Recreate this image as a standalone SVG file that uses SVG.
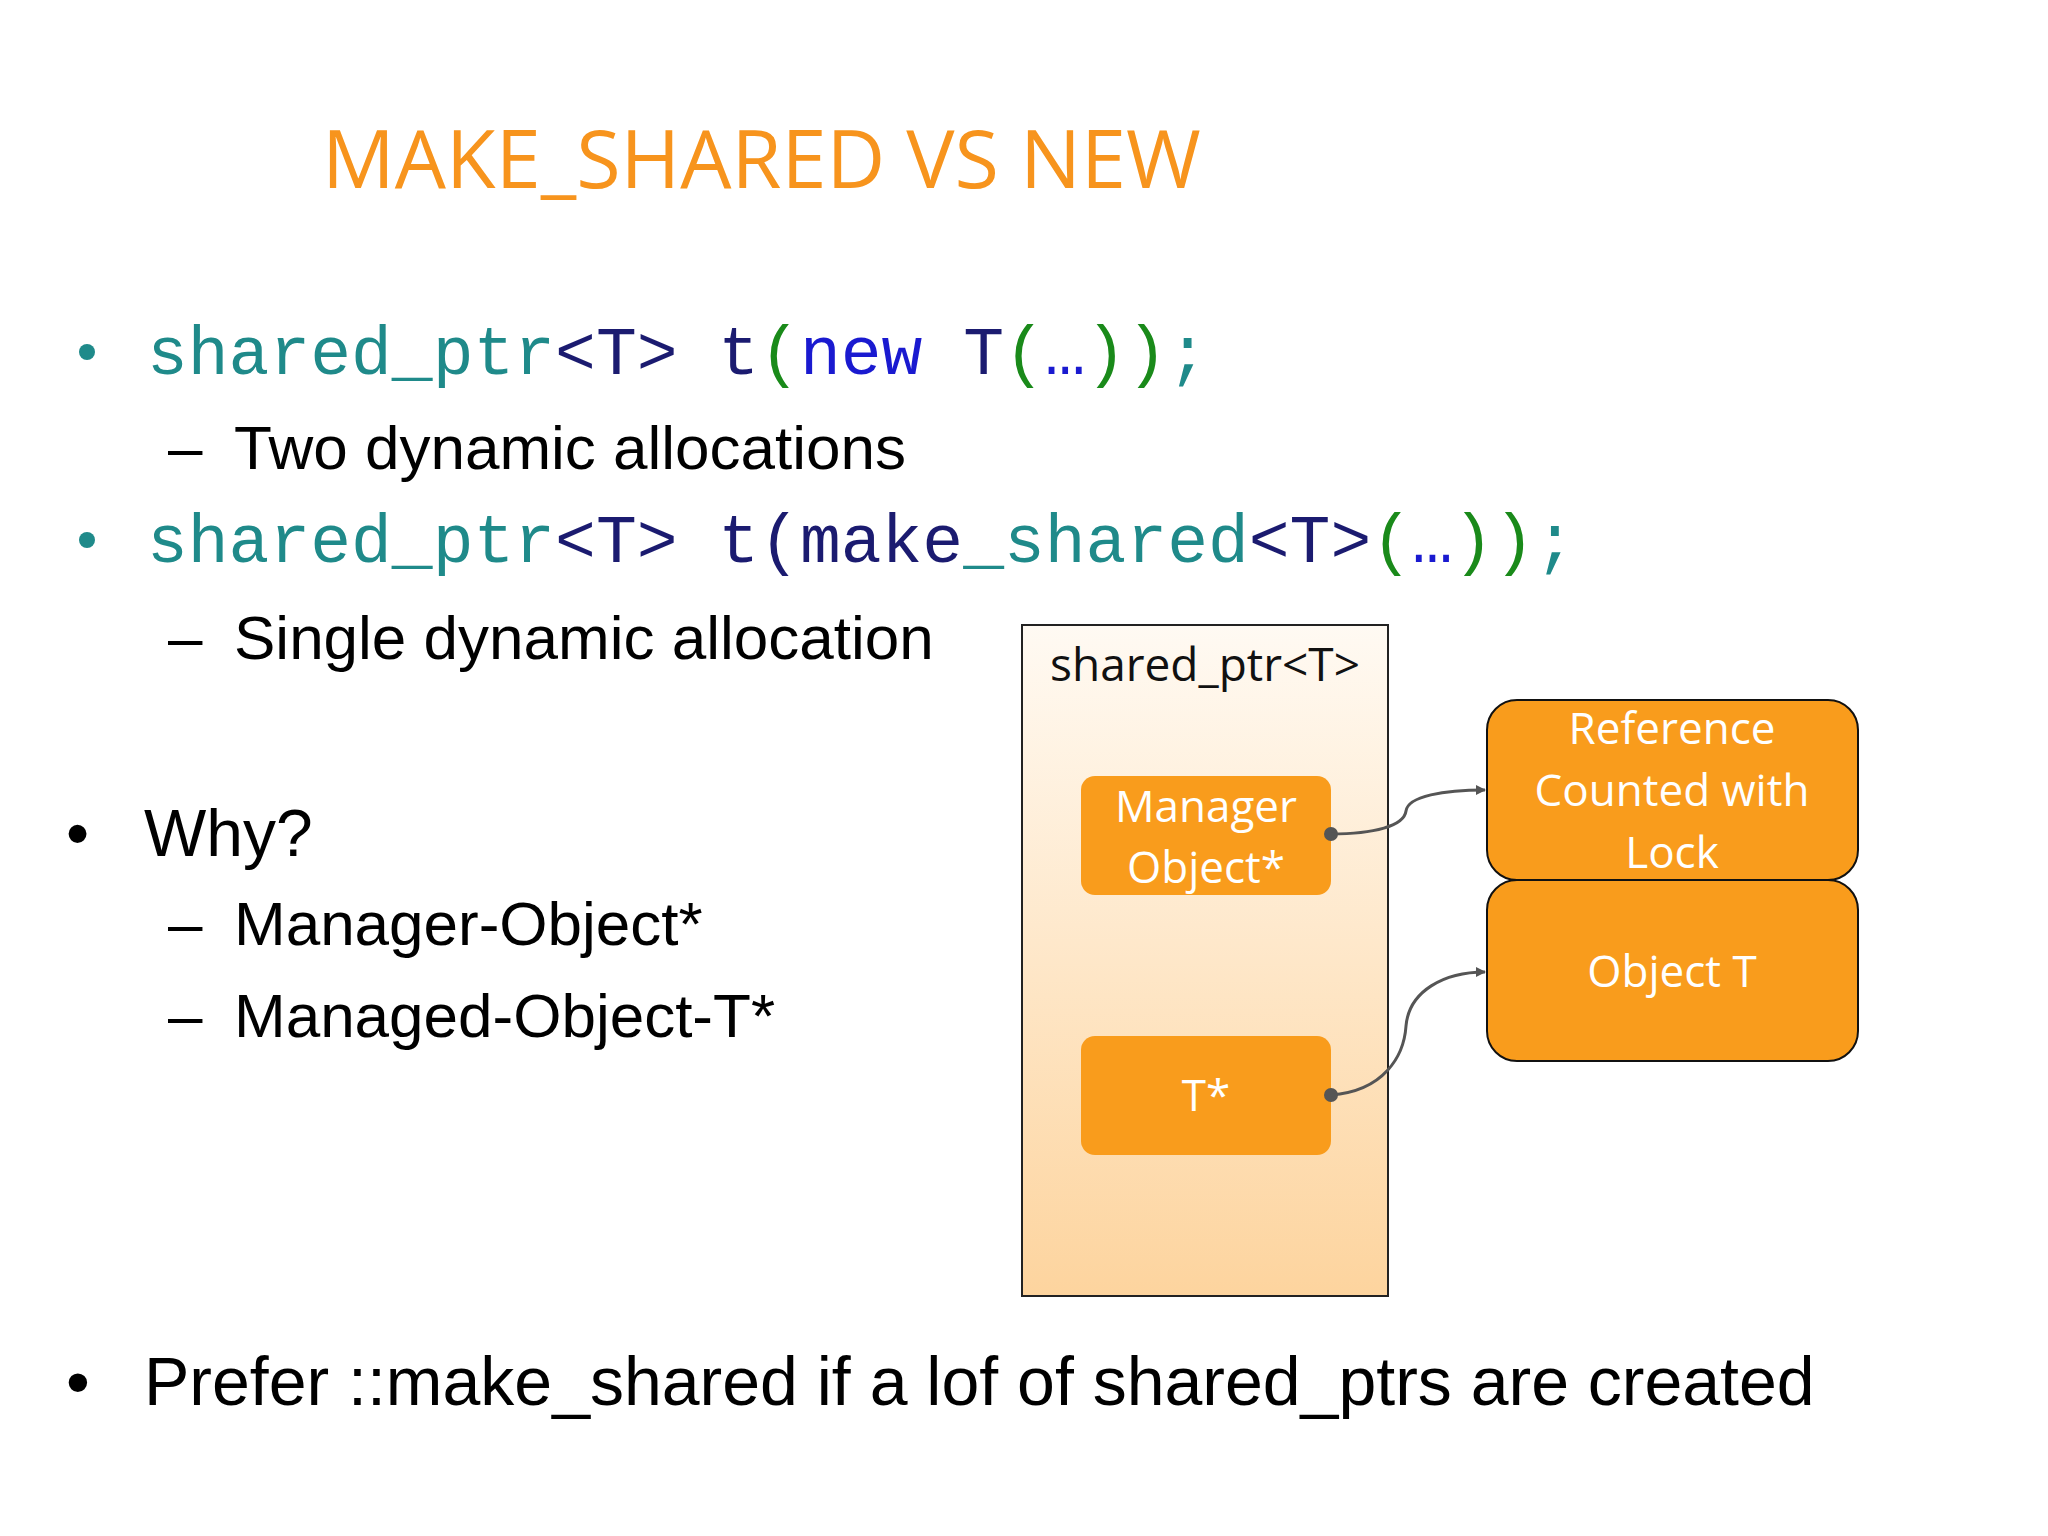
<svg xmlns="http://www.w3.org/2000/svg" width="2048" height="1536" viewBox="0 0 2048 1536">
<style>
.code{font-family:"Liberation Mono",monospace;font-size:68px}
.tl{fill:#1f8a8a}.nv{fill:#1b1b70}.gr{fill:#1a8a1a}.bl{fill:#1a1ad0}
.txt{font-family:"Liberation Sans",Arial,sans-serif;font-size:62px;fill:#000}
.box{font-family:"Open Sans",sans-serif;font-size:44px;fill:#fff;text-anchor:middle}
.ob{fill:#F99C1C}
.con{fill:none;stroke:#555;stroke-width:3}
</style>
<defs>
<linearGradient id="g" x1="0" y1="0" x2="0" y2="1"><stop offset="0" stop-color="#FFFAF3"/><stop offset="1" stop-color="#FDD49E"/></linearGradient>
<marker id="a" markerWidth="10" markerHeight="10" refX="9" refY="5" orient="auto" markerUnits="userSpaceOnUse" viewBox="0 0 10 10"><path d="M0,0L10,5L0,10z" fill="#555"/></marker>
</defs>
<rect width="2048" height="1536" fill="#fff"/>
<text x="322" y="188" font-family="Open Sans,sans-serif" font-size="81" fill="#F7941D">MAKE_SHARED VS NEW</text>
<g id="text">
<circle cx="87" cy="352" r="8" class="tl"/>
<text x="147" y="374" class="code"><tspan class="tl">shared_ptr</tspan><tspan class="nv">&lt;T&gt; t</tspan><tspan class="gr">(</tspan><tspan class="bl">new </tspan><tspan class="nv">T</tspan><tspan class="gr">(</tspan><tspan class="bl">…</tspan><tspan class="gr">))</tspan><tspan class="tl">;</tspan></text>
<text x="168" y="469" class="txt">–</text><text x="234" y="469" class="txt">Two dynamic allocations</text>
<circle cx="87" cy="540" r="8" class="tl"/>
<text x="147" y="562" class="code"><tspan class="tl">shared_ptr</tspan><tspan class="nv">&lt;T&gt; t(make</tspan><tspan class="tl">_shared</tspan><tspan class="nv">&lt;T&gt;</tspan><tspan class="gr">(</tspan><tspan class="bl">…</tspan><tspan class="gr">))</tspan><tspan class="tl">;</tspan></text>
<text x="168" y="659" class="txt">–</text><text x="234" y="659" class="txt">Single dynamic allocation</text>
<text x="66" y="856" class="txt" style="font-size:66px">•</text><text x="144" y="856" class="txt" style="font-size:66px">Why?</text>
<text x="168" y="945" class="txt">–</text><text x="234" y="945" class="txt">Manager-Object*</text>
<text x="168" y="1037" class="txt">–</text><text x="234" y="1037" class="txt">Managed-Object-T*</text>
<text x="66" y="1405" class="txt" style="font-size:68px">•</text><text x="144" y="1405" class="txt" style="font-size:68px">Prefer ::make_shared if a lof of shared_ptrs are created</text>
</g>
<g transform="translate(-6,-4)">
<g id="shared_ptr">
<rect x="1028" y="629" width="366" height="671" fill="url(#g)" stroke="#222" stroke-width="2"/>
<text x="1211" y="685" class="box" style="fill:#111;font-size:46px">shared_ptr&lt;T&gt;</text>
</g>
<g id="manager"><rect x="1087" y="780" width="250" height="119" rx="14" class="ob"/>
<text class="box"><tspan x="1212" y="826">Manager</tspan><tspan x="1212" y="887">Object*</tspan></text></g>
<g id="tptr"><rect x="1087" y="1040" width="250" height="119" rx="14" class="ob"/>
<text x="1212" y="1115" class="box">T*</text></g>
<g id="refcount"><rect x="1493" y="704" width="371" height="180" rx="30" class="ob" stroke="#111" stroke-width="2"/>
<text class="box"><tspan x="1678" y="748">Reference</tspan><tspan x="1678" y="810">Counted with</tspan><tspan x="1678" y="872">Lock</tspan></text></g>
<g id="objectT"><rect x="1493" y="884" width="371" height="181" rx="30" class="ob" stroke="#111" stroke-width="2"/>
<text x="1678" y="991" class="box">Object T</text></g>
<g id="connectors">
<circle cx="1337" cy="838" r="7" fill="#555"/>
<path d="M1337,838 C1380,838 1410,830 1412,815 C1414,800 1450,794 1491,794" class="con" marker-end="url(#a)"/>
<circle cx="1337" cy="1099" r="7" fill="#555"/>
<path d="M1337,1099 C1390,1095 1410,1060 1412,1030 C1415,995 1450,976 1491,976" class="con" marker-end="url(#a)"/>
</g>
</g>
</svg>
